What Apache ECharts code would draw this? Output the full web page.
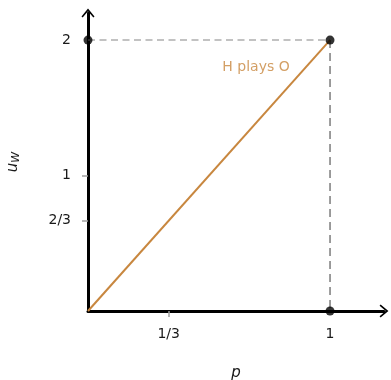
<!DOCTYPE html>
<html>
<head>
<meta charset="utf-8">
<script src="https://cdn.jsdelivr.net/npm/echarts@6/dist/echarts.min.js"></script>
<style>
  html, body { margin: 0; padding: 0; background: #fff; }
  #chart { width: 391px; height: 380px; }
</style>
</head>
<body>
<div id="chart"></div>
<script>
// Payoff to W as a function of p when H plays O
const xTicks = [1 / 3, 1];
const xTickLabels = { '0.3333': '1/3', '1.0000': '1' };
const yTicks = [2 / 3, 1, 2];
const yTickLabels = { '0.6667': '2/3', '1.0000': '1', '2.0000': '2' };
const payoffLine = [[0, 0], [1, 2]];
const guideHorizontal = [[0, 2], [1, 2]];
const guideVertical = [[1, 2], [1, 0]];
const dots = [[0, 2], [1, 2], [1, 0]];
const lineName = 'H plays O';

const xMax = 1.223;
const yMax = 2.2;
const font = 'DejaVu Sans';
const textColor = '#1a1a1a';
const orange = '#c8873f';
const tickGray = '#a0a0a0';

const key = v => v.toFixed(4);
const chevron = 'path://M0 0 L10 12 L8.2 13.6 L0 4 L-8.2 13.6 L-10 12 Z';

const chart = echarts.init(document.getElementById('chart'), null, { renderer: 'canvas' });

const tickAxisCommon = {
  type: 'value', min: 0, splitLine: { show: false }
};
const tickStyle = { color: tickGray, width: 1.5 };

chart.setOption({
  animation: false,
  backgroundColor: '#fff',
  grid: { left: 88, right: 7, top: 13, bottom: 69, containLabel: false, outerBoundsMode: 'none' },
  xAxis: [
    Object.assign({}, tickAxisCommon, {
      max: xMax,
      name: 'p',
      nameLocation: 'middle',
      nameGap: 55,
      nameTextStyle: { fontFamily: font, fontStyle: 'italic', fontSize: 15, color: textColor },
      axisLine: {
        show: true, symbol: ['none', chevron], symbolSize: [13, 13], symbolOffset: [0, 0],
        lineStyle: { color: '#000', width: 3 }
      },
      axisTick: { show: true, customValues: [xTicks[0]], length: 6, lineStyle: tickStyle },
      axisLabel: {
        show: true, customValues: xTicks, margin: 16,
        fontFamily: font, fontSize: 14, color: textColor,
        formatter: v => xTickLabels[key(v)] || ''
      }
    }),
    Object.assign({}, tickAxisCommon, {
      max: xMax,
      axisLine: { show: false },
      axisTick: { show: true, inside: true, customValues: [xTicks[0]], length: 6, lineStyle: tickStyle },
      axisLabel: { show: false }
    })
  ],
  yAxis: [
    Object.assign({}, tickAxisCommon, {
      max: yMax,
      name: '{u|u}{w|W}',
      nameLocation: 'middle',
      nameGap: 66,
      nameRotate: 90,
      nameTextStyle: {
        fontFamily: font, color: textColor,
        rich: {
          u: { fontFamily: font, fontStyle: 'italic', fontSize: 15, color: textColor },
          w: { fontFamily: font, fontStyle: 'italic', fontSize: 11, color: textColor, padding: [6, 0, 0, 0] }
        }
      },
      axisLine: {
        show: true, symbol: ['none', chevron], symbolSize: [13, 13], symbolOffset: [0, 0],
        lineStyle: { color: '#000', width: 3 }
      },
      axisTick: { show: true, customValues: [yTicks[0], yTicks[1]], length: 6, lineStyle: tickStyle },
      axisLabel: {
        show: true, customValues: yTicks, margin: 17,
        fontFamily: font, fontSize: 14, color: textColor,
        formatter: v => yTickLabels[key(v)] || ''
      }
    }),
    Object.assign({}, tickAxisCommon, {
      max: yMax,
      axisLine: { show: false },
      axisTick: { show: true, inside: true, customValues: [yTicks[0], yTicks[1]], length: 6, lineStyle: tickStyle },
      axisLabel: { show: false }
    })
  ],
  series: [
    {
      type: 'line', data: guideHorizontal, showSymbol: false, silent: true,
      lineStyle: { color: '#c2c2c2', width: 2, type: [7, 4.5] }, z: 1
    },
    {
      type: 'line', data: guideVertical, showSymbol: false, silent: true,
      lineStyle: { color: '#5a5a5a', width: 1.2, type: [8, 5] }, z: 1
    },
    {
      type: 'line', name: lineName, data: payoffLine, showSymbol: false, silent: true,
      lineStyle: { color: orange, width: 2 }, z: 3
    },
    {
      type: 'scatter', silent: true, symbolSize: 9, z: 5,
      itemStyle: { color: '#000' },
      data: dots.map(d => (d[0] === payoffLine[1][0] && d[1] === payoffLine[1][1])
        ? {
            value: d,
            label: {
              show: true, formatter: lineName, position: 'inside', offset: [-74, 27],
              fontFamily: font, fontSize: 14, color: orange
            }
          }
        : { value: d })
    }
  ]
});
</script>
</body>
</html>
